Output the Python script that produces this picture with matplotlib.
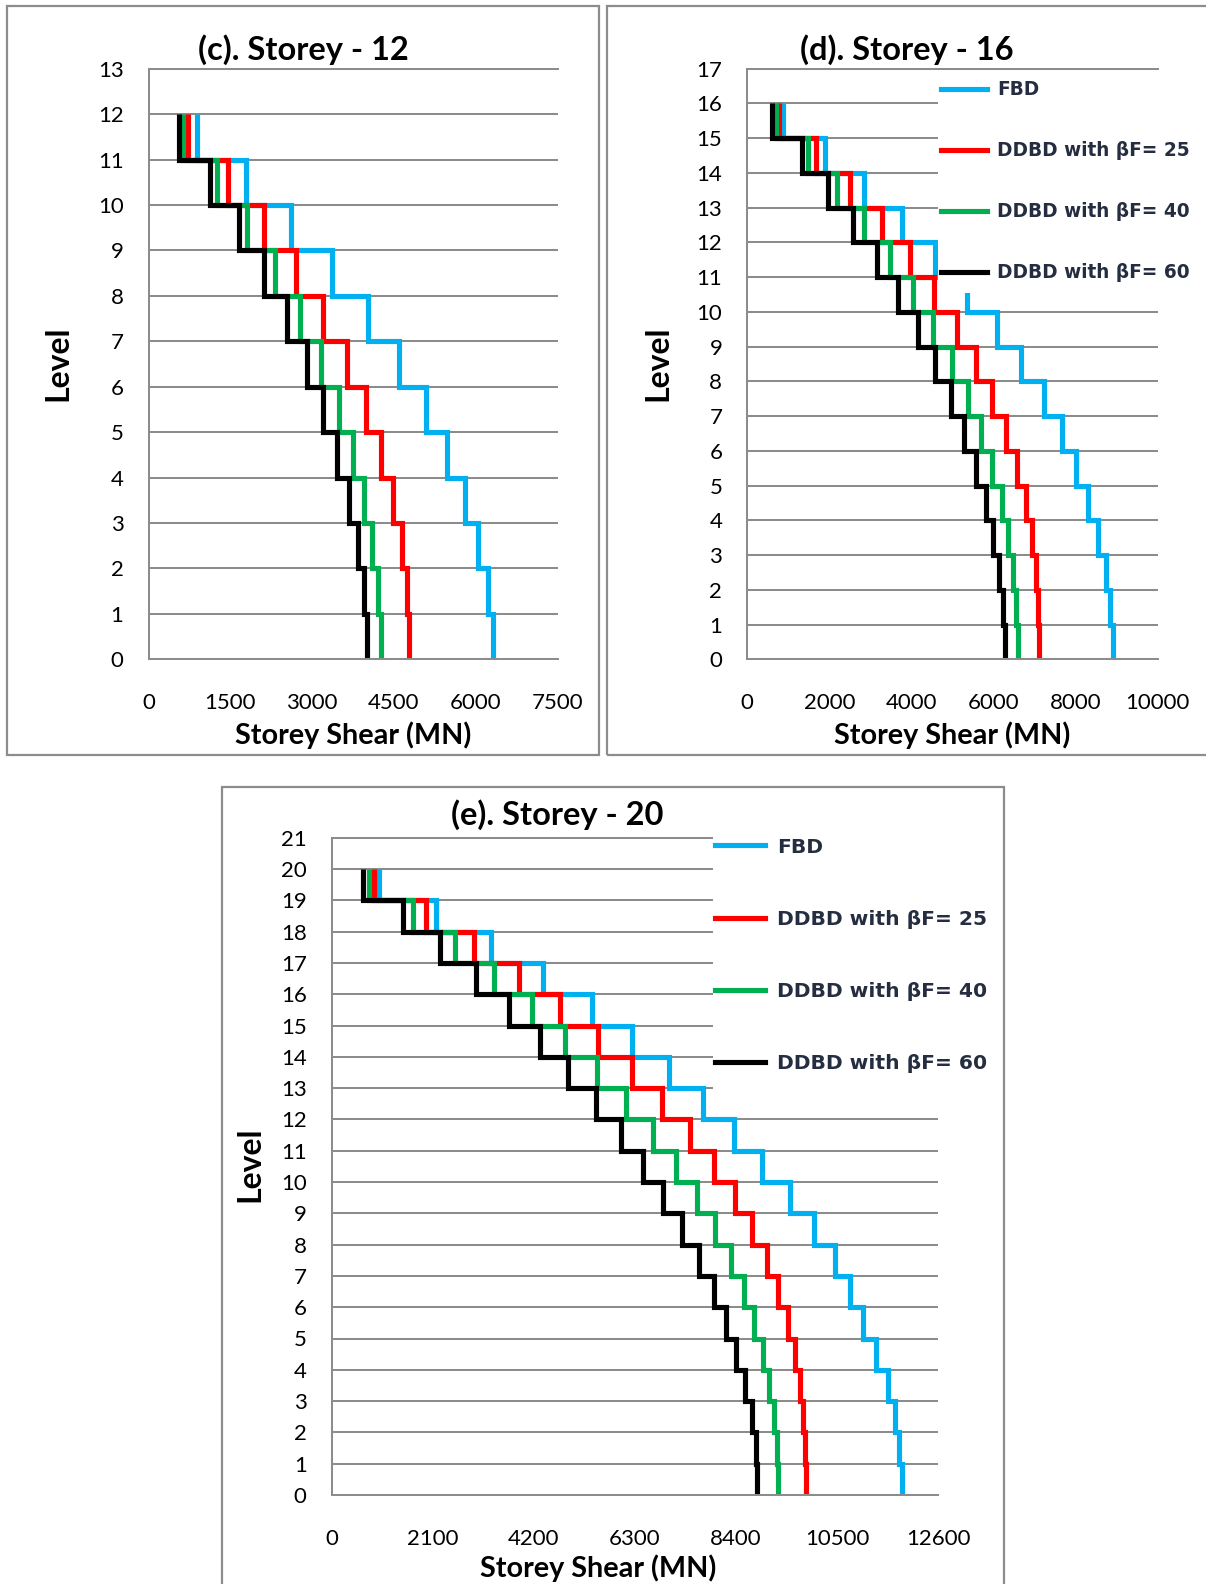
import numpy as np
import matplotlib.pyplot as plt
from matplotlib.patches import Rectangle

plt.rcParams['font.family'] = ['Lato', 'DejaVu Sans']

W, H = 1206, 1584

# storey shear (MN) per storey, listed from the ground storey (level 0-1) upwards
fbd_12 = [6310, 6218, 6046, 5802, 5466, 5081, 4598, 4018, 3358, 2606, 1781, 883]
ddbd25_12 = [4781, 4733, 4641, 4488, 4256, 3981, 3632, 3205, 2698, 2117, 1463, 730]
ddbd40_12 = [4256, 4201, 4103, 3956, 3755, 3492, 3162, 2777, 2319, 1812, 1250, 638]
ddbd60_12 = [4005, 3950, 3846, 3681, 3461, 3205, 2900, 2533, 2123, 1659, 1127, 565]

fbd_16 = [8907, 8842, 8737, 8557, 8298, 8013, 7664, 7241, 6672, 6079, 5348, 4576,
          3763, 2853, 1894, 863]
ddbd25_16 = [7119, 7095, 7031, 6933, 6787, 6567, 6299, 5958, 5576, 5105, 4559, 3966,
             3276, 2504, 1675, 780]
ddbd40_16 = [6592, 6551, 6485, 6363, 6202, 5973, 5690, 5373, 4983, 4535, 4032, 3479,
             2853, 2179, 1472, 692]
ddbd60_16 = [6282, 6226, 6136, 5998, 5811, 5576, 5283, 4958, 4576, 4154, 3681, 3154,
             2585, 1975, 1326, 594]

fbd_20 = [11840, 11791, 11701, 11550, 11307, 11043, 10767, 10455, 10019, 9520, 8945,
          8364, 7720, 7010, 6232, 5401, 4396, 3309, 2167, 989]
ddbd25_20 = [9846, 9832, 9797, 9728, 9624, 9485, 9277, 9036, 8737, 8378, 7948, 7443,
             6870, 6242, 5526, 4743, 3891, 2956, 1959, 885]
ddbd40_20 = [9277, 9256, 9194, 9090, 8953, 8779, 8565, 8288, 7962, 7582, 7152, 6668,
             6120, 5515, 4840, 4155, 3378, 2561, 1683, 781]
ddbd60_20 = [8841, 8807, 8724, 8585, 8398, 8190, 7941, 7636, 7283, 6888, 6460, 6003,
             5494, 4905, 4327, 3683, 2991, 2250, 1474, 657]

labels = ['FBD', 'DDBD with βF= 25', 'DDBD with βF= 40', 'DDBD with βF= 60']
colors = ['#00b0f0', '#ff0000', '#00b050', '#000000']
titles = ['(c). Storey - 12', '(d). Storey - 16', '(e). Storey - 20']

grid_col = '#8c8c8c'


def px_box(left, top, right, bottom):
    return [left / W, 1 - bottom / H, (right - left) / W, (bottom - top) / H]


def px(x, y):
    return x / W, 1 - y / H


def draw_panel(ax, series, xmax, xstep):
    n = len(series[0])
    edges = np.arange(n + 1)
    handles = []
    for vals, col, lab in zip(series, colors, labels):
        h = ax.stairs(vals, edges, orientation='horizontal', baseline=None,
                      color=col, lw=3.7, label=lab)
        handles.append(h)
    ax.set_xlim(0, xmax)
    ax.set_ylim(0, n + 1)
    ax.set_xticks(np.arange(0, xmax + 1, xstep))
    ax.set_yticks(range(n + 2))
    ax.grid(axis='y', color=grid_col, lw=1.45)
    ax.set_axisbelow(True)
    ax.spines['right'].set_visible(False)
    for s in ['left', 'bottom', 'top']:
        ax.spines[s].set_color(grid_col)
        ax.spines[s].set_linewidth(1.45)
    ax.tick_params(axis='x', length=0, labelsize=16, pad=24.5)
    ax.tick_params(axis='y', length=0, labelsize=16, pad=18)
    return handles


fig = plt.figure(figsize=(W / 100, H / 100), dpi=100)

# panel frames
for (l, t, r, b) in [(7, 6, 599, 755), (607, 6, 1210, 755), (222, 787, 1004, 1590)]:
    x0, y0 = px(l, b)
    fig.add_artist(Rectangle((x0, y0), (r - l) / W, (b - t) / H, transform=fig.transFigure,
                             fill=False, edgecolor=grid_col, lw=1.6, zorder=1))

ax_c = fig.add_axes(px_box(148.5, 68.7, 557.6, 659.3))
draw_panel(ax_c, [fbd_12, ddbd25_12, ddbd40_12, ddbd60_12], 7500, 1500)

ax_d = fig.add_axes(px_box(747.3, 68.6, 1157.5, 659.3))
h_d = draw_panel(ax_d, [fbd_16, ddbd25_16, ddbd40_16, ddbd60_16], 10000, 2000)

ax_e = fig.add_axes(px_box(331.7, 837.7, 938.3, 1495))
h_e = draw_panel(ax_e, [fbd_20, ddbd25_20, ddbd40_20, ddbd60_20], 12600, 2100)

# white legend backgrounds hiding the grid and lines below them
for (l, t, r, b) in [(938, 74, 1206, 293), (713, 826, 995, 1090)]:
    x0, y0 = px(l, b)
    fig.add_artist(Rectangle((x0, y0), (r - l) / W, (b - t) / H, transform=fig.transFigure,
                             facecolor='white', edgecolor='none', zorder=3))

leg_font = {'family': 'DejaVu Sans', 'weight': 'bold', 'size': 13.35}
fig.legend(h_d, labels, loc='upper left', bbox_to_anchor=px(941, 80.2), frameon=False,
           borderpad=0, borderaxespad=0, handlelength=2.48, handletextpad=0.54,
           labelspacing=2.27, prop=leg_font, labelcolor='#252d40')
leg_font_e = dict(leg_font, size=14.6)
fig.legend(h_e, labels, loc='upper left', bbox_to_anchor=px(715, 837.5), frameon=False,
           borderpad=0, borderaxespad=0, handlelength=2.47, handletextpad=0.59,
           labelspacing=2.63, prop=leg_font_e, labelcolor='#252d40')

# titles and axis labels
for (x, y), s in zip([(303.5, 50), (907, 50), (557, 815)], titles):
    fig.text(*px(x, y), s, ha='center', va='center', fontsize=23.5, fontweight='bold')
for x, y in [(353, 735), (952.5, 735), (598, 1568)]:
    fig.text(*px(x, y), 'Storey Shear (MN)', ha='center', va='center',
             fontsize=20.7, fontweight='bold')
for x, y in [(57.5, 363.5), (657.5, 363.5), (249.5, 1164.5)]:
    fig.text(*px(x, y), 'Level', ha='center', va='center', rotation=90,
             fontsize=23, fontweight='bold')

fig.savefig('out.png', dpi=100, facecolor='white')
